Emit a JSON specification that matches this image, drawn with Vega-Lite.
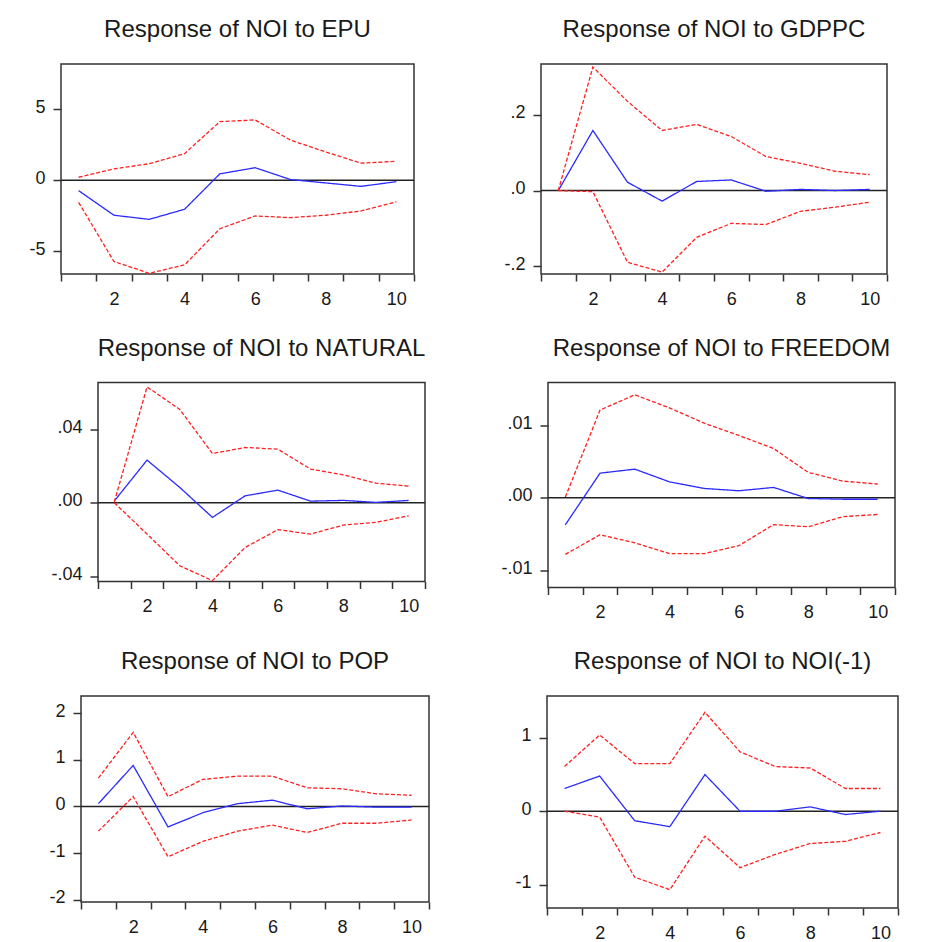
{
  "$schema": "https://vega.github.io/schema/vega-lite/v6.json",
  "background": "white",
  "padding": {"top": 17, "left": 5, "right": 5, "bottom": 2},
  "spacing": 26.5,
  "datasets": {
    "irf": [
      {"p": "EPU", "h": 1, "r": -0.73, "u": 0.21, "l": -1.56},
      {"p": "EPU", "h": 2, "r": -2.46, "u": 0.80, "l": -5.71},
      {"p": "EPU", "h": 3, "r": -2.75, "u": 1.16, "l": -6.54},
      {"p": "EPU", "h": 4, "r": -2.04, "u": 1.87, "l": -5.95},
      {"p": "EPU", "h": 5, "r": 0.45, "u": 4.12, "l": -3.41},
      {"p": "EPU", "h": 6, "r": 0.88, "u": 4.24, "l": -2.51},
      {"p": "EPU", "h": 7, "r": 0.05, "u": 2.82, "l": -2.63},
      {"p": "EPU", "h": 8, "r": -0.19, "u": 1.99, "l": -2.46},
      {"p": "EPU", "h": 9, "r": -0.43, "u": 1.20, "l": -2.16},
      {"p": "EPU", "h": 10, "r": -0.10, "u": 1.33, "l": -1.52},
      {"p": "GDPPC", "h": 1, "r": 0.0, "u": 0.0, "l": 0.0},
      {"p": "GDPPC", "h": 2, "r": 0.159, "u": 0.327, "l": -0.003},
      {"p": "GDPPC", "h": 3, "r": 0.022, "u": 0.236, "l": -0.190},
      {"p": "GDPPC", "h": 4, "r": -0.028, "u": 0.159, "l": -0.216},
      {"p": "GDPPC", "h": 5, "r": 0.024, "u": 0.175, "l": -0.124},
      {"p": "GDPPC", "h": 6, "r": 0.028, "u": 0.143, "l": -0.087},
      {"p": "GDPPC", "h": 7, "r": -0.002, "u": 0.090, "l": -0.090},
      {"p": "GDPPC", "h": 8, "r": 0.003, "u": 0.072, "l": -0.055},
      {"p": "GDPPC", "h": 9, "r": 0.0, "u": 0.051, "l": -0.044},
      {"p": "GDPPC", "h": 10, "r": 0.003, "u": 0.042, "l": -0.031},
      {"p": "NATURAL", "h": 1, "r": 0.001, "u": 0.0005, "l": 0.0},
      {"p": "NATURAL", "h": 2, "r": 0.0233, "u": 0.0633, "l": -0.0171},
      {"p": "NATURAL", "h": 3, "r": 0.0084, "u": 0.051, "l": -0.0344},
      {"p": "NATURAL", "h": 4, "r": -0.008, "u": 0.0269, "l": -0.0425},
      {"p": "NATURAL", "h": 5, "r": 0.0038, "u": 0.0302, "l": -0.0244},
      {"p": "NATURAL", "h": 6, "r": 0.0069, "u": 0.0293, "l": -0.0147},
      {"p": "NATURAL", "h": 7, "r": 0.0009, "u": 0.0184, "l": -0.0171},
      {"p": "NATURAL", "h": 8, "r": 0.0013, "u": 0.0153, "l": -0.0122},
      {"p": "NATURAL", "h": 9, "r": 0.0002, "u": 0.0107, "l": -0.0107},
      {"p": "NATURAL", "h": 10, "r": 0.0013, "u": 0.0091, "l": -0.0071},
      {"p": "FREEDOM", "h": 1, "r": -0.00372, "u": 0.0001, "l": -0.0078},
      {"p": "FREEDOM", "h": 2, "r": 0.0034, "u": 0.0121, "l": -0.0051},
      {"p": "FREEDOM", "h": 3, "r": 0.00395, "u": 0.0142, "l": -0.0062},
      {"p": "FREEDOM", "h": 4, "r": 0.0022, "u": 0.0124, "l": -0.0077},
      {"p": "FREEDOM", "h": 5, "r": 0.00129, "u": 0.0103, "l": -0.0077},
      {"p": "FREEDOM", "h": 6, "r": 0.00097, "u": 0.0086, "l": -0.0066},
      {"p": "FREEDOM", "h": 7, "r": 0.00143, "u": 0.0068, "l": -0.0037},
      {"p": "FREEDOM", "h": 8, "r": -0.0001, "u": 0.0035, "l": -0.0040},
      {"p": "FREEDOM", "h": 9, "r": -0.0002, "u": 0.0023, "l": -0.0026},
      {"p": "FREEDOM", "h": 10, "r": -0.0002, "u": 0.0019, "l": -0.0023},
      {"p": "POP", "h": 1, "r": 0.06, "u": 0.61, "l": -0.53},
      {"p": "POP", "h": 2, "r": 0.88, "u": 1.59, "l": 0.21},
      {"p": "POP", "h": 3, "r": -0.44, "u": 0.21, "l": -1.08},
      {"p": "POP", "h": 4, "r": -0.135, "u": 0.58, "l": -0.75},
      {"p": "POP", "h": 5, "r": 0.06, "u": 0.65, "l": -0.53},
      {"p": "POP", "h": 6, "r": 0.135, "u": 0.65, "l": -0.40},
      {"p": "POP", "h": 7, "r": -0.05, "u": 0.40, "l": -0.56},
      {"p": "POP", "h": 8, "r": 0.01, "u": 0.38, "l": -0.36},
      {"p": "POP", "h": 9, "r": -0.015, "u": 0.27, "l": -0.36},
      {"p": "POP", "h": 10, "r": -0.015, "u": 0.24, "l": -0.29},
      {"p": "NOI", "h": 1, "r": 0.31, "u": 0.61, "l": 0.0},
      {"p": "NOI", "h": 2, "r": 0.48, "u": 1.04, "l": -0.08},
      {"p": "NOI", "h": 3, "r": -0.13, "u": 0.65, "l": -0.90},
      {"p": "NOI", "h": 4, "r": -0.21, "u": 0.65, "l": -1.07},
      {"p": "NOI", "h": 5, "r": 0.50, "u": 1.35, "l": -0.34},
      {"p": "NOI", "h": 6, "r": 0.0, "u": 0.81, "l": -0.77},
      {"p": "NOI", "h": 7, "r": 0.0, "u": 0.61, "l": -0.59},
      {"p": "NOI", "h": 8, "r": 0.06, "u": 0.59, "l": -0.44},
      {"p": "NOI", "h": 9, "r": -0.045, "u": 0.31, "l": -0.41},
      {"p": "NOI", "h": 10, "r": 0.0, "u": 0.31, "l": -0.29}
    ]
  },
  "config": {
    "view": {"stroke": "#333333", "strokeWidth": 1.5},
    "font": "Liberation Sans",
    "title": {"font": "Liberation Sans", "fontSize": 24, "fontWeight": "normal", "color": "#1a1a1a", "anchor": "middle", "frame": "group", "baseline": "bottom", "offset": 22},
    "axis": {"domain": false, "grid": false, "labelFont": "Liberation Sans", "labelFontSize": 18, "labelColor": "#1a1a1a", "tickColor": "#333333", "tickWidth": 1.5, "title": null, "labelOverlap": false},
    "axisX": {"tickSize": 7, "labelPadding": 9, "labelAngle": 0, "tickBand": "extent"},
    "axisY": {"tickSize": 8, "labelPadding": 8, "labelOffset": -2},
    "line": {"strokeWidth": 1.3},
    "rule": {"strokeWidth": 1.5, "color": "#222222"}
  },
  "vconcat": [
    {
      "spacing": 10,
      "hconcat": [
        {"width": 5, "height": 1, "data": {"values": []}, "mark": "point", "view": {"stroke": null}},
        {
          "title": "Response of NOI to EPU",
          "width": 353, "height": 210,
          "data": {"name": "irf"},
          "transform": [{"filter": "datum.p == 'EPU'"}],
          "layer": [
            {"transform": [{"filter": "datum.h == 1"}], "mark": "rule",
             "encoding": {"y": {"datum": 0, "type": "quantitative", "scale": {"domain": [-6.59, 8.17], "nice": false, "zero": false},
               "axis": {"values": [-5, 0, 5], "labelExpr": "replace(format(datum.value, 'd'), '\u2212', '-')", "minExtent": 40, "maxExtent": 40}}}},
            {"transform": [{"fold": ["r", "u", "l"], "as": ["s", "v"]}], "mark": "line",
             "encoding": {
               "x": {"field": "h", "type": "ordinal", "scale": {"type": "band", "paddingInner": 0, "paddingOuter": 0}, "axis": {"labelExpr": "datum.value % 2 == 0 ? datum.label : ''", "minExtent": 32, "maxExtent": 32}},
               "y": {"field": "v", "type": "quantitative", "scale": {"domain": [-6.59, 8.17], "nice": false, "zero": false},
                 "axis": {"values": [-5, 0, 5], "labelExpr": "replace(format(datum.value, 'd'), '\u2212', '-')", "minExtent": 40, "maxExtent": 40}},
               "color": {"field": "s", "type": "nominal", "scale": {"domain": ["r", "u", "l"], "range": ["#2a2aff", "#ff1f1f", "#ff1f1f"]}, "legend": null},
               "strokeDash": {"field": "s", "type": "nominal", "scale": {"domain": ["r", "u", "l"], "range": [[1, 0], [4, 2], [4, 2]]}, "legend": null}
             }}
          ]
        },
        {
          "title": "Response of NOI to GDPPC",
          "width": 346, "height": 210,
          "data": {"name": "irf"},
          "transform": [{"filter": "datum.p == 'GDPPC'"}],
          "layer": [
            {"transform": [{"filter": "datum.h == 1"}], "mark": "rule",
             "encoding": {"y": {"datum": 0, "type": "quantitative", "scale": {"domain": [-0.221, 0.335], "nice": false, "zero": false},
               "axis": {"values": [-0.2, 0, 0.2], "labelExpr": "replace(replace(format(datum.value, '.1f'), '\u2212', '-'), '0.', '.')", "minExtent": 114, "maxExtent": 114}}}},
            {"transform": [{"fold": ["r", "u", "l"], "as": ["s", "v"]}], "mark": "line",
             "encoding": {
               "x": {"field": "h", "type": "ordinal", "scale": {"type": "band", "paddingInner": 0, "paddingOuter": 0}, "axis": {"labelExpr": "datum.value % 2 == 0 ? datum.label : ''", "minExtent": 32, "maxExtent": 32}},
               "y": {"field": "v", "type": "quantitative", "scale": {"domain": [-0.221, 0.335], "nice": false, "zero": false},
                 "axis": {"values": [-0.2, 0, 0.2], "labelExpr": "replace(replace(format(datum.value, '.1f'), '\u2212', '-'), '0.', '.')", "minExtent": 114, "maxExtent": 114}},
               "color": {"field": "s", "type": "nominal", "scale": {"domain": ["r", "u", "l"], "range": ["#2a2aff", "#ff1f1f", "#ff1f1f"]}, "legend": null},
               "strokeDash": {"field": "s", "type": "nominal", "scale": {"domain": ["r", "u", "l"], "range": [[1, 0], [4, 2], [4, 2]]}, "legend": null}
             }}
          ]
        }
      ]
    },
    {
      "spacing": 10,
      "hconcat": [
        {"width": 32, "height": 1, "data": {"values": []}, "mark": "point", "view": {"stroke": null}},
        {
          "title": "Response of NOI to NATURAL",
          "width": 327, "height": 199,
          "data": {"name": "irf"},
          "transform": [{"filter": "datum.p == 'NATURAL'"}],
          "layer": [
            {"transform": [{"filter": "datum.h == 1"}], "mark": "rule",
             "encoding": {"y": {"datum": 0, "type": "quantitative", "scale": {"domain": [-0.043, 0.0657], "nice": false, "zero": false},
               "axis": {"values": [-0.04, 0, 0.04], "labelExpr": "replace(replace(format(datum.value, '.2f'), '\u2212', '-'), '0.', '.')", "minExtent": 50, "maxExtent": 50}}}},
            {"transform": [{"fold": ["r", "u", "l"], "as": ["s", "v"]}], "mark": "line",
             "encoding": {
               "x": {"field": "h", "type": "ordinal", "scale": {"type": "band", "paddingInner": 0, "paddingOuter": 0}, "axis": {"labelExpr": "datum.value % 2 == 0 ? datum.label : ''", "minExtent": 32, "maxExtent": 32}},
               "y": {"field": "v", "type": "quantitative", "scale": {"domain": [-0.043, 0.0657], "nice": false, "zero": false},
                 "axis": {"values": [-0.04, 0, 0.04], "labelExpr": "replace(replace(format(datum.value, '.2f'), '\u2212', '-'), '0.', '.')", "minExtent": 50, "maxExtent": 50}},
               "color": {"field": "s", "type": "nominal", "scale": {"domain": ["r", "u", "l"], "range": ["#2a2aff", "#ff1f1f", "#ff1f1f"]}, "legend": null},
               "strokeDash": {"field": "s", "type": "nominal", "scale": {"domain": ["r", "u", "l"], "range": [[1, 0], [4, 2], [4, 2]]}, "legend": null}
             }}
          ]
        },
        {
          "title": "Response of NOI to FREEDOM",
          "width": 347, "height": 205,
          "data": {"name": "irf"},
          "transform": [{"filter": "datum.p == 'FREEDOM'"}],
          "layer": [
            {"transform": [{"filter": "datum.h == 1"}], "mark": "rule",
             "encoding": {"y": {"datum": 0, "type": "quantitative", "scale": {"domain": [-0.01237, 0.0159], "nice": false, "zero": false},
               "axis": {"values": [-0.01, 0, 0.01], "labelExpr": "replace(replace(format(datum.value, '.2f'), '\u2212', '-'), '0.', '.')", "minExtent": 110, "maxExtent": 110}}}},
            {"transform": [{"fold": ["r", "u", "l"], "as": ["s", "v"]}], "mark": "line",
             "encoding": {
               "x": {"field": "h", "type": "ordinal", "scale": {"type": "band", "paddingInner": 0, "paddingOuter": 0}, "axis": {"labelExpr": "datum.value % 2 == 0 ? datum.label : ''", "minExtent": 32, "maxExtent": 32}},
               "y": {"field": "v", "type": "quantitative", "scale": {"domain": [-0.01237, 0.0159], "nice": false, "zero": false},
                 "axis": {"values": [-0.01, 0, 0.01], "labelExpr": "replace(replace(format(datum.value, '.2f'), '\u2212', '-'), '0.', '.')", "minExtent": 110, "maxExtent": 110}},
               "color": {"field": "s", "type": "nominal", "scale": {"domain": ["r", "u", "l"], "range": ["#2a2aff", "#ff1f1f", "#ff1f1f"]}, "legend": null},
               "strokeDash": {"field": "s", "type": "nominal", "scale": {"domain": ["r", "u", "l"], "range": [[1, 0], [4, 2], [4, 2]]}, "legend": null}
             }}
          ]
        }
      ]
    },
    {
      "spacing": 10,
      "hconcat": [
        {"width": 25, "height": 1, "data": {"values": []}, "mark": "point", "view": {"stroke": null}},
        {
          "title": "Response of NOI to POP",
          "width": 348, "height": 206,
          "data": {"name": "irf"},
          "transform": [{"filter": "datum.p == 'POP'"}],
          "layer": [
            {"transform": [{"filter": "datum.h == 1"}], "mark": "rule",
             "encoding": {"y": {"datum": 0, "type": "quantitative", "scale": {"domain": [-2.05, 2.37], "nice": false, "zero": false},
               "axis": {"values": [-2, -1, 0, 1, 2], "labelExpr": "replace(format(datum.value, 'd'), '\u2212', '-')", "minExtent": 40, "maxExtent": 40}}}},
            {"transform": [{"fold": ["r", "u", "l"], "as": ["s", "v"]}], "mark": "line",
             "encoding": {
               "x": {"field": "h", "type": "ordinal", "scale": {"type": "band", "paddingInner": 0, "paddingOuter": 0}, "axis": {"labelExpr": "datum.value % 2 == 0 ? datum.label : ''", "minExtent": 35, "maxExtent": 35}},
               "y": {"field": "v", "type": "quantitative", "scale": {"domain": [-2.05, 2.37], "nice": false, "zero": false},
                 "axis": {"values": [-2, -1, 0, 1, 2], "labelExpr": "replace(format(datum.value, 'd'), '\u2212', '-')", "minExtent": 40, "maxExtent": 40}},
               "color": {"field": "s", "type": "nominal", "scale": {"domain": ["r", "u", "l"], "range": ["#2a2aff", "#ff1f1f", "#ff1f1f"]}, "legend": null},
               "strokeDash": {"field": "s", "type": "nominal", "scale": {"domain": ["r", "u", "l"], "range": [[1, 0], [4, 2], [4, 2]]}, "legend": null}
             }}
          ]
        },
        {
          "title": "Response of NOI to NOI(-1)",
          "width": 351, "height": 212,
          "data": {"name": "irf"},
          "transform": [{"filter": "datum.p == 'NOI'"}],
          "layer": [
            {"transform": [{"filter": "datum.h == 1"}], "mark": "rule",
             "encoding": {"y": {"datum": 0, "type": "quantitative", "scale": {"domain": [-1.32, 1.572], "nice": false, "zero": false},
               "axis": {"values": [-1, 0, 1], "labelExpr": "replace(format(datum.value, 'd'), '\u2212', '-')", "minExtent": 105, "maxExtent": 105}}}},
            {"transform": [{"fold": ["r", "u", "l"], "as": ["s", "v"]}], "mark": "line",
             "encoding": {
               "x": {"field": "h", "type": "ordinal", "scale": {"type": "band", "paddingInner": 0, "paddingOuter": 0}, "axis": {"labelExpr": "datum.value % 2 == 0 ? datum.label : ''", "minExtent": 35, "maxExtent": 35}},
               "y": {"field": "v", "type": "quantitative", "scale": {"domain": [-1.32, 1.572], "nice": false, "zero": false},
                 "axis": {"values": [-1, 0, 1], "labelExpr": "replace(format(datum.value, 'd'), '\u2212', '-')", "minExtent": 105, "maxExtent": 105}},
               "color": {"field": "s", "type": "nominal", "scale": {"domain": ["r", "u", "l"], "range": ["#2a2aff", "#ff1f1f", "#ff1f1f"]}, "legend": null},
               "strokeDash": {"field": "s", "type": "nominal", "scale": {"domain": ["r", "u", "l"], "range": [[1, 0], [4, 2], [4, 2]]}, "legend": null}
             }}
          ]
        }
      ]
    }
  ]
}
